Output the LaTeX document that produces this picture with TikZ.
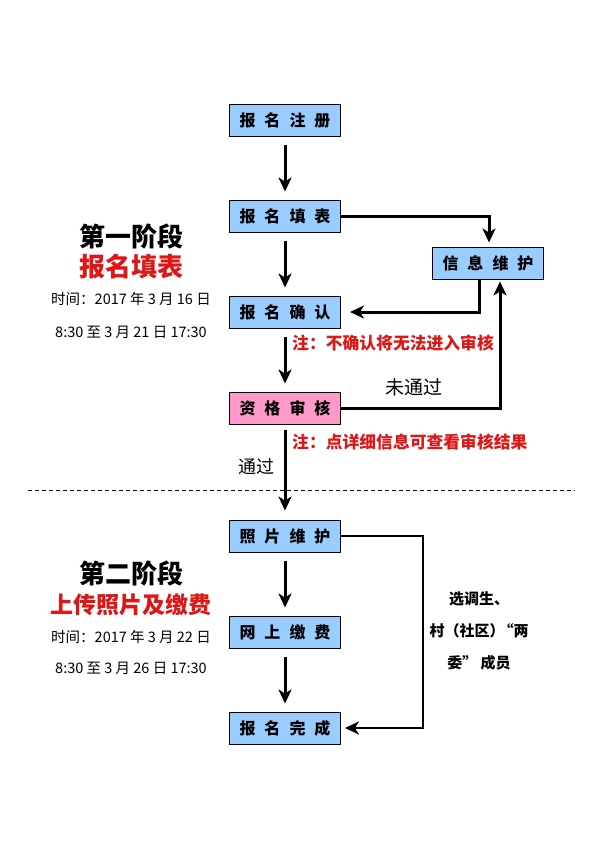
\documentclass[tikz,border=0pt]{standalone}
\usepackage{fontspec}
\setmainfont{Noto Sans CJK SC}
\usepackage{tikz}
\usepackage{xcolor}
\usetikzlibrary{arrows.meta}
\definecolor{boxblue}{RGB}{153,204,255}
\definecolor{boxpink}{RGB}{255,153,204}
\definecolor{notered}{RGB}{222,22,22}
\newcommand{\kg}{\hspace{9pt}}

\begin{document}
\begin{tikzpicture}[x=1pt, y=-1pt,
  box/.style = {draw, fill=boxblue, line width=.9pt, minimum width=111pt, minimum height=32pt, inner sep=0pt, font=\fontsize{16}{16}\selectfont\bfseries},
  arr/.style = {line width=3pt, -{Stealth[length=14pt, width=13pt, inset=4pt]}},
  stage/.style = {font=\fontsize{26}{26}\selectfont\bfseries},
  title/.style = {text=notered, font=\fontsize{23}{23}\selectfont\bfseries},
  when/.style = {font=\fontsize{14.5}{14.5}\selectfont},
  tip/.style = {text=notered, anchor=west, inner sep=0pt, font=\fontsize{16.8}{16.8}\selectfont\bfseries}]
  \useasboundingbox (0, 0) rectangle (606, 859);
  \node[box] (zhuce) at (285, 120) {报\kg 名\kg 注\kg 册};
  \node[box] (tianbiao) at (285, 216) {报\kg 名\kg 填\kg 表};
  \node[box] (queren) at (285, 312) {报\kg 名\kg 确\kg 认};
  \node[box, fill=boxpink] (shenhe) at (285, 408) {资\kg 格\kg 审\kg 核};
  \node[box] (xinxi) at (488, 263) {信\kg 息\kg 维\kg 护};
  \node[box] (zhaopian) at (285, 536) {照\kg 片\kg 维\kg 护};
  \node[box] (jiaofei) at (285, 632) {网\kg 上\kg 缴\kg 费};
  \node[box] (wancheng) at (285, 728) {报\kg 名\kg 完\kg 成};

  \node[stage] (stage1) at (131, 236) {第一阶段};
  \node[title, font=\fontsize{26}{26}\selectfont\bfseries] (title1) at (131, 267) {报名填表};
  \node[when] (from1) at (131, 299) {时间：2017 年 3 月 16 日};
  \node[when] (to1) at (131, 332) {8:30 至 3 月 21 日 17:30};
  \node[stage] (stage2) at (131, 573) {第二阶段};
  \node[title] (title2) at (131, 605) {上传照片及缴费};
  \node[when] (from2) at (131, 637) {时间：2017 年 3 月 22 日};
  \node[when] (to2) at (131, 668) {8:30 至 3 月 26 日 17:30};

  \node[tip] (tip1) at (292, 343) {注：不确认将无法进入审核};
  \node[tip] (tip2) at (292, 442) {注：点详细信息可查看审核结果};
  \node[font=\fontsize{19}{19}\selectfont] (fail) at (414, 387) {未通过};
  \node[font=\fontsize{18}{18}\selectfont] (pass) at (256, 467) {通过};
  \node[align=center, font=\fontsize{15}{32}\selectfont\bfseries] (who) at (479, 631) {选调生、\\村（社区）\kern-.4em“两\\委”\ 成员};

  \draw [dash pattern=on 4pt off 3pt, line width=.9pt] (28, 490) -- (575, 490);

  \draw [arr, shorten <=9pt, shorten >=8pt] (zhuce) -- (tianbiao);
  \draw [arr, shorten <=9pt, shorten >=8pt] (tianbiao) -- (queren);
  \draw [arr, shorten <=9pt, shorten >=8pt] (queren) -- (shenhe);
  \draw [arr, shorten <=6pt, shorten >=9pt] (shenhe) -- (zhaopian);
  \draw [arr, shorten <=9pt, shorten >=8pt] (zhaopian) -- (jiaofei);
  \draw [arr, shorten <=9pt, shorten >=8pt] (jiaofei) -- (wancheng);
  \draw [arr, shorten >=4pt] (tianbiao.east) -| ([xshift=1pt]xinxi.north);
  \draw [arr, shorten >=9pt] ([xshift=-9pt]xinxi.south) |- (queren.east);
  \draw [arr, shorten >=2pt] (shenhe.east) -| ([xshift=12pt]xinxi.south);
  \draw [arr, line width=2.5pt, shorten >=4pt] (zhaopian.east) -- ++(82, 0) |- (wancheng.east);
\end{tikzpicture}
\end{document}
